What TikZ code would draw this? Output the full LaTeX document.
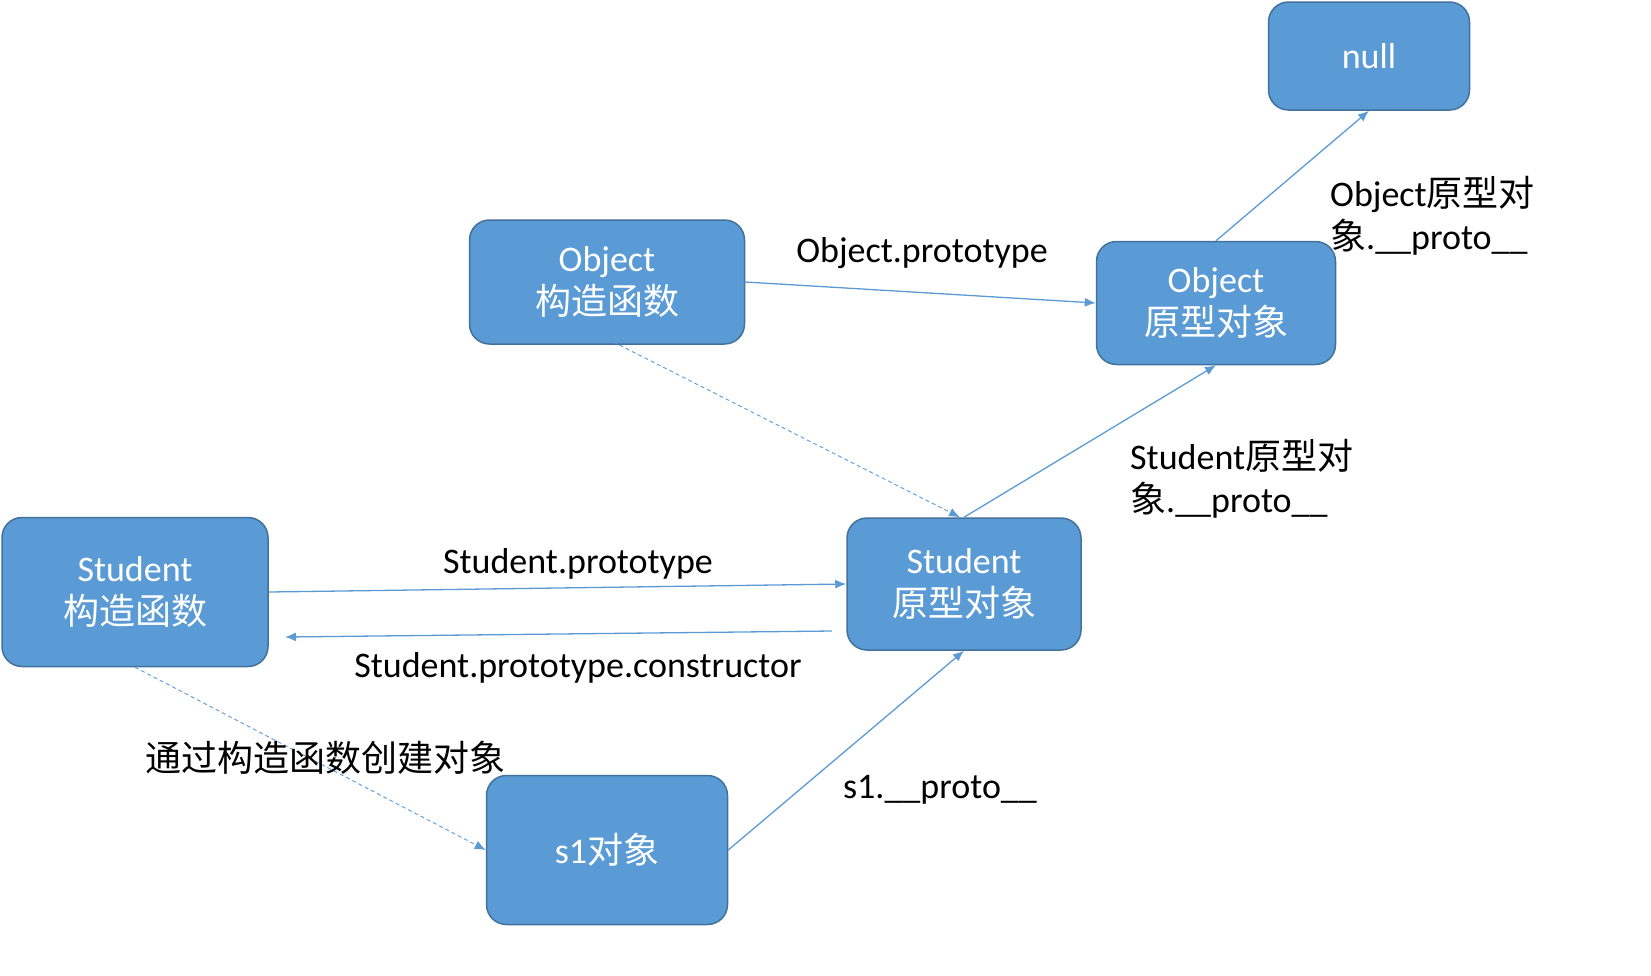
\documentclass[tikz,border=0pt]{standalone}
\usepackage{fontspec}
\setmainfont{Carlito}
\newfontfamily\cjk{Noto Sans CJK SC}
\usepackage{tikz}
\usetikzlibrary{arrows.meta}

\definecolor{boxblue}{HTML}{5B9BD5}
\definecolor{boxline}{HTML}{41719C}

\begin{document}
\begin{tikzpicture}[x=1pt,y=-1pt]
\tikzstyle{main}=[rectangle, rounded corners=20pt, fill=boxblue, draw=boxline, line width=1.5pt, text=white, align=center, font=\fontsize{36}{43}\selectfont]
\tikzstyle{connect}=[-{Latex[length=11pt,width=9pt]}, draw=boxblue, line width=1.3pt]
\tikzstyle{dashedge}=[connect, line width=0.9pt, dash pattern=on 4pt off 3pt]
\tikzstyle{lbl}=[text=black, font=\fontsize{36}{43}\selectfont, inner sep=0pt]
\useasboundingbox (0,0) rectangle (1651,975);
  % null
  \node[main, minimum width=201pt, minimum height=108pt] (null) at (1369,56) {null};
  % Object constructor
  \node[main, minimum width=275pt, minimum height=124pt] (octor) at (607,282) {Object\\{\cjk 构造函数}};
  % Object prototype
  \node[main, minimum width=239pt, minimum height=123pt] (oproto) at (1216,303) {Object\\{\cjk 原型对象}};
  % Student constructor
  \node[main, minimum width=266pt, minimum height=149pt] (sctor) at (135,592) {Student\\{\cjk 构造函数}};
  % Student prototype
  \node[main, minimum width=234pt, minimum height=132pt] (sproto) at (964,584) {Student\\{\cjk 原型对象}};
  % s1
  \node[main, minimum width=241pt, minimum height=149pt] (s1) at (607,850) {s1{\cjk 对象}};
  \coordinate (cfrom) at (832,631);
  \coordinate (cto) at (285,637);
  \path (octor.east) edge [connect] (oproto.west)
        (oproto.north) edge [connect] (null.south)
        (sproto.north) edge [connect] (oproto.south)
        (sctor.east) edge [connect] (sproto.west)
        (cfrom) edge [connect] (cto)
        (s1.east) edge [connect] (sproto.south)
        ([yshift=6pt]octor.south) edge [dashedge] ([xshift=-4pt]sproto.north)
        (sctor.south) edge [dashedge] (s1.west);
  % labels
  \node[lbl] (lop) at (922,253) {Object.prototype};
  \node[lbl, anchor=west, align=left] (lopp) at (1330,216) {Object{\cjk 原型对}\\{\cjk 象}.\_\_proto\_\_};
  \node[lbl, anchor=west, align=left] (lspp) at (1130,479) {Student{\cjk 原型对}\\{\cjk 象}.\_\_proto\_\_};
  \node[lbl] (lsp) at (578,564) {Student.prototype};
  \node[lbl] (lspc) at (578,668) {Student.prototype.constructor};
  \node[lbl] (lnew) at (325,758) {\cjk 通过构造函数创建对象};
  \node[lbl] (ls1) at (940,790) {s1.\_\_proto\_\_};
\end{tikzpicture}
\end{document}
